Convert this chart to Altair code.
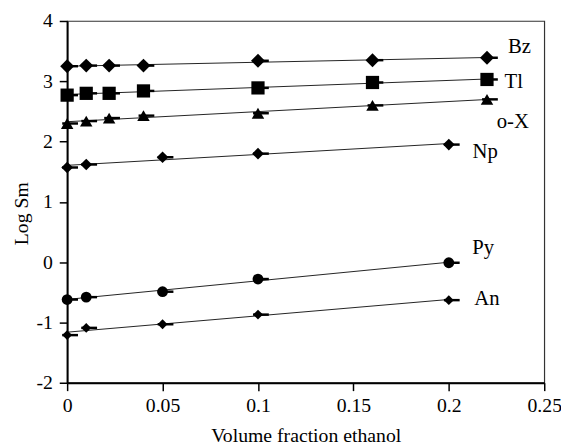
import altair as alt
import pandas as pd

series = ["Bz", "Tl", "o-X", "Np", "Py", "An"]
shapes = ["diamond", "square", "triangle-up", "diamond", "circle", "diamond"]
sizes = [200, 100, 165, 200, 105, 190]

x_main = [0, 0.01, 0.022, 0.04, 0.1, 0.16, 0.22]
x_short = [0, 0.01, 0.05, 0.1, 0.2]

y_bz = [3.25, 3.26, 3.26, 3.26, 3.34, 3.35, 3.39]
y_tl = [2.77, 2.80, 2.80, 2.84, 2.89, 2.98, 3.03]
y_ox = [2.30, 2.34, 2.39, 2.43, 2.47, 2.60, 2.70]
y_np = [1.57, 1.62, 1.74, 1.80, 1.95]
y_py = [-0.62, -0.58, -0.49, -0.28, -0.01]
y_an = [-1.21, -1.09, -1.03, -0.87, -0.63]

label_x = [0.237, 0.234, 0.2335, 0.219, 0.218, 0.220]
label_y = [3.56, 2.99, 2.33, 1.82, 0.24, -0.61]

x_ticks = [0, 0.05, 0.1, 0.15, 0.2, 0.25]
y_ticks = [-2, -1, 0, 1, 2, 3, 4]

rows = []
for name, xs, ys in [("Bz", x_main, y_bz), ("Tl", x_main, y_tl), ("o-X", x_main, y_ox),
                     ("Np", x_short, y_np), ("Py", x_short, y_py), ("An", x_short, y_an)]:
    for xv, yv in zip(xs, ys):
        rows.append({"series": name, "x": xv, "y": yv})
df = pd.DataFrame(rows)
labels = pd.DataFrame({"series": series, "x": label_x, "y": label_y})

FONT = "Liberation Serif"

x_enc = alt.X("x:Q", scale=alt.Scale(domain=[0, 0.25], nice=False),
              axis=alt.Axis(values=x_ticks, format="~g", title="Volume fraction ethanol",
                            labelFlush=False,
                            titleBaseline="alphabetic", titleY=60))
y_enc = alt.Y("y:Q", scale=alt.Scale(domain=[-2, 4], nice=False),
              axis=alt.Axis(values=y_ticks, format="d", title="Log Sm",
                            labelFlush=False,
                            titleBaseline="middle", titleX=-46, titleY=195,
                            labelExpr="replace(datum.label, '\u2212', '-')"))

base = alt.Chart(df)

lines = base.transform_regression("x", "y", groupby=["series"]).mark_line(
    color="#222222", strokeWidth=1).encode(x=x_enc, y=y_enc, detail="series:N")

bars = base.mark_tick(orient="horizontal", color="black", thickness=2.5, size=16,
                      xOffset=3, opacity=1).encode(x=x_enc, y=y_enc)

points = base.mark_point(filled=True, color="black", opacity=1).encode(
    x=x_enc, y=y_enc,
    shape=alt.Shape("series:N", scale=alt.Scale(domain=series, range=shapes), legend=None),
    size=alt.Size("series:N", scale=alt.Scale(domain=series, range=sizes), legend=None),
)

text = alt.Chart(labels).mark_text(font=FONT, fontSize=21, align="center",
                                   baseline="middle", color="black").encode(
    x=alt.X("x:Q", scale=alt.Scale(domain=[0, 0.25], nice=False)),
    y=alt.Y("y:Q", scale=alt.Scale(domain=[-2, 4], nice=False)),
    text="series:N")

chart = alt.layer(lines, bars, points, text).properties(
    width=484, height=367, autosize="none",
    padding={"left": 60, "top": 10, "right": 17, "bottom": 61},
).configure_axis(
    labelFont=FONT, titleFont=FONT, labelFontSize=20, titleFontSize=20,
    titleFontWeight="normal", labelColor="black", titleColor="black",
    domainColor="black", domainWidth=2, tickColor="black", tickWidth=1.5,
    tickSize=8, grid=False,
).configure_axisX(labelPadding=5).configure_axisY(
    labelPadding=7
).configure_view(stroke="#333333", strokeWidth=1.2)

chart.save("out.html", embed_options={"renderer": "svg", "actions": False})
